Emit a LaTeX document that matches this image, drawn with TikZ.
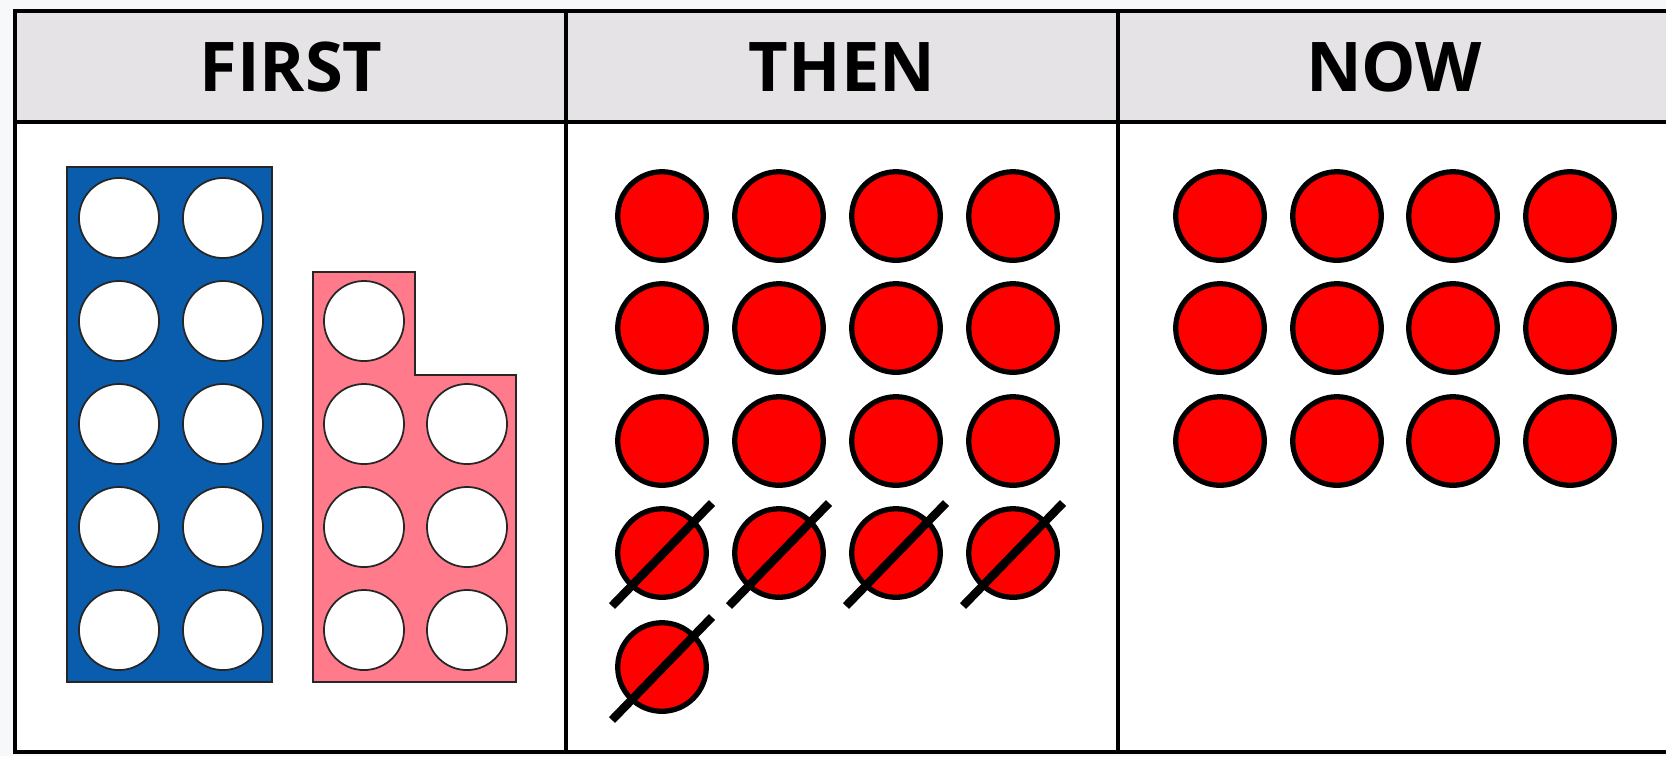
\documentclass[tikz,border=0pt]{standalone}
\usepackage{fontspec}
\setmainfont{Open Sans}
\definecolor{hdrgrey}{RGB}{229,227,229}
\definecolor{bgpale}{RGB}{246,248,250}
\definecolor{tenblue}{RGB}{10,92,172}
\definecolor{sevenpink}{RGB}{255,122,138}
\definecolor{dotred}{RGB}{255,0,0}
\tikzset{
  gridline/.style={line width=1.35pt, draw=black},
  hdrtext/.style={font=\bfseries\fontsize{19.5}{24}\selectfont, text=black, inner sep=0pt, anchor=center},
  holec/.style={circle, draw=black!85, fill=white, line width=0.5pt, minimum size=0.80cm, inner sep=0pt},
  redc/.style={circle, draw=black, fill=dotred, line width=1.5pt, minimum size=0.885cm, inner sep=0pt},
  slashline/.style={line width=2.4pt, draw=black},
  blockedge/.style={draw=black!85, line width=0.6pt},
}
\begin{document}
\begin{tikzpicture}[x=0.01cm, y=-0.01cm]
\clip (0,0) rectangle (1666,756);
\fill[bgpale] (0,0) rectangle (1666,756);
% table body and header
\fill[white] (15,11) rectangle (1700,752);
\fill[hdrgrey] (15,11) rectangle (1700,122);
\draw[gridline] (15,11) rectangle (1700,752);
\draw[gridline] (15,122) -- (1700,122);
\draw[gridline] (566,11) -- (566,752);
\draw[gridline] (1118,11) -- (1118,752);
% headers
\node[hdrtext] (hfirst) at (291,67) {FIRST};
\node[hdrtext] (hthen) at (842,67) {THEN};
\node[hdrtext] (hnow) at (1394,67) {NOW};
% ten block
\path[blockedge, fill=tenblue] (67,167) rectangle (272,682);
\foreach \r/\yy in {1/218,2/321,3/424,4/527,5/630}{
  \node[holec] (b\r a) at (119,\yy) {};
  \node[holec] (b\r b) at (223,\yy) {};
}
% seven block
\path[blockedge, fill=sevenpink] (313,272) -- (415,272) -- (415,375) -- (516,375) -- (516,682) -- (313,682) -- cycle;
\node[holec] (p1a) at (364,321) {};
\foreach \r/\yy in {2/424,3/527,4/630}{
  \node[holec] (p\r a) at (364,\yy) {};
  \node[holec] (p\r b) at (467,\yy) {};
}
% THEN counters
\foreach \r/\yy in {1/216,2/328,3/441,4/553}{
  \foreach \c/\xx in {1/662,2/779,3/896,4/1013}{
    \node[redc] (t\r\c) at (\xx,\yy) {};
  }
}
\node[redc] (t51) at (662,667) {};
\foreach \n in {t41,t42,t43,t44,t51}{
  \draw[slashline] ([shift={(-50,53)}]\n.center) -- ([shift={(50,-50)}]\n.center);
}
% NOW counters
\foreach \r/\yy in {1/216,2/328,3/441}{
  \foreach \c/\xx in {1/1220,2/1337,3/1453,4/1570}{
    \node[redc] (n\r\c) at (\xx,\yy) {};
  }
}
\end{tikzpicture}
\end{document}
